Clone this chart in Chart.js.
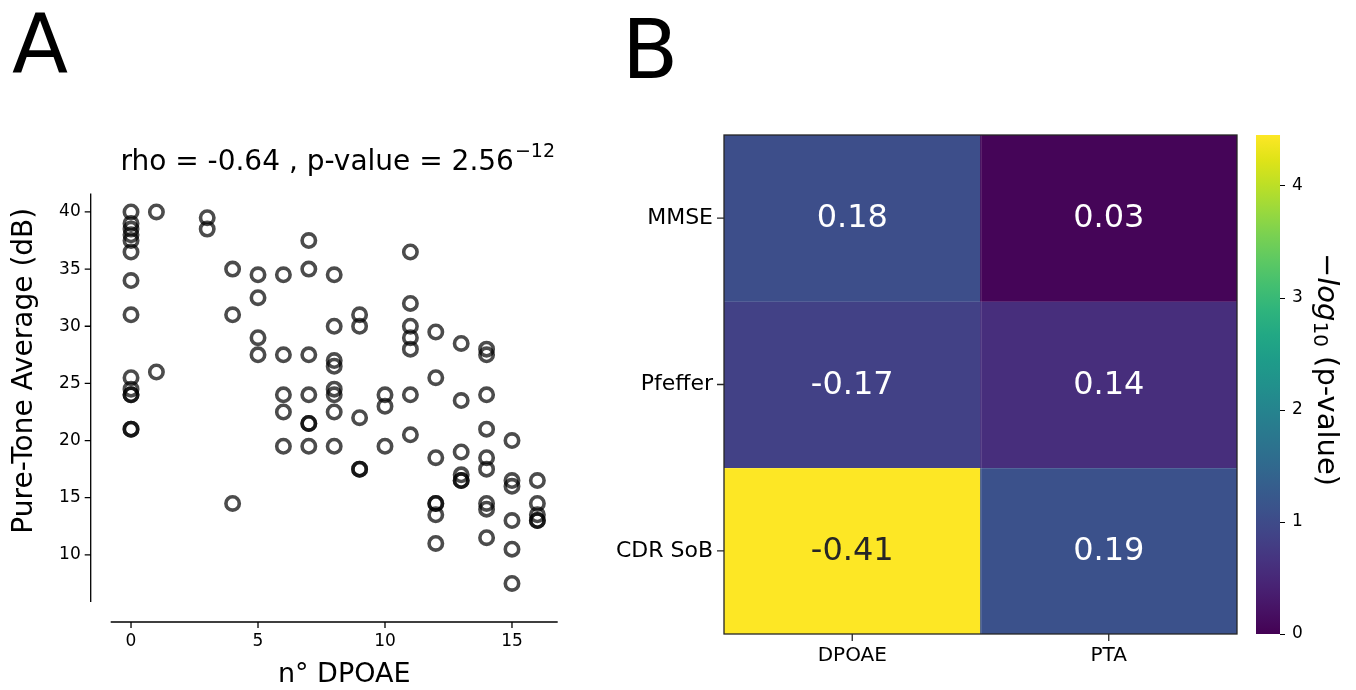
<!DOCTYPE html>
<html>
<head>
<meta charset="utf-8">
<script src="https://cdn.jsdelivr.net/npm/chart.js@4.4.1/dist/chart.umd.min.js"></script>
<style>
  html, body { margin: 0; padding: 0; background: #ffffff; }
  #wrap { position: relative; width: 1356px; height: 690px; overflow: hidden; background: #fff; }
  canvas { position: absolute; top: 0; }
</style>
</head>
<body>
<div id="wrap">
  <canvas id="chartA" width="600" height="690" style="left:0px;width:600px;height:690px"></canvas>
  <canvas id="chartB" width="650" height="690" style="left:600px;width:650px;height:690px"></canvas>
  <canvas id="chartC" width="110" height="690" style="left:1246px;width:110px;height:690px"></canvas>
</div>
<script>
// ---------------- Panel A data ----------------
const dpoae = [
  0,0,0,0,0,0,0,0,0,0,0,0,0,0,
  1,1,
  3,3,
  4,4,4,
  5,5,5,5,
  6,6,6,6,6,
  7,7,7,7,7,7,7,
  8,8,8,8,8,8,8,8,
  9,9,9,9,9,
  10,10,10,
  11,11,11,11,11,11,11,
  12,12,12,12,12,12,12,
  13,13,13,13,13,13,
  14,14,14,14,14,14,14,14,14,
  15,15,15,15,15,15,
  16,16,16,16,16
];
const pta = [
  40,39,38.5,38,37.5,36.5,34,31,25.5,24.5,24,24,21,21,
  40,26,
  39.5,38.5,
  35,31,14.5,
  34.5,32.5,29,27.5,
  34.5,27.5,24,22.5,19.5,
  37.5,35,27.5,24,21.5,21.5,19.5,
  34.5,30,27,26.5,24.5,24,22.5,19.5,
  31,30,22,17.5,17.5,
  24,23,19.5,
  36.5,32,30,29,28,24,20.5,
  29.5,25.5,18.5,14.5,14.5,13.5,11,
  28.5,23.5,19,17,16.5,16.5,
  28,27.5,24,21,18.5,17.5,14.5,14,11.5,
  20,16.5,16,13,10.5,7.5,
  16.5,14.5,13.5,13,13
];
const xTicksA = [0, 5, 10, 15];
const yTicksA = [10, 15, 20, 25, 30, 35, 40];
const titleMainA = 'rho = -0.64 , p-value = 2.56';
const titleSupA = '\u221212';
const xTitleA = 'n\u00b0 DPOAE';
const yTitleA = 'Pure-Tone Average (dB)';

// ---------------- Panel B data ----------------
const rowLabels = ['MMSE', 'Pfeffer', 'CDR SoB'];
const colLabels = ['DPOAE', 'PTA'];
const rhoMMSE = [0.18, 0.03];
const rhoPfeffer = [-0.17, 0.14];
const rhoCDR = [-0.41, 0.19];
const logpMMSE = [1.05, 0.05];
const logpPfeffer = [0.85, 0.58];
const logpCDR = [4.45, 1.10];
const cbTicks = [0, 1, 2, 3, 4];
const cbLabelParts = ['\u2212', 'log', '10', ' (p-value)'];

const rhoRows = [rhoMMSE, rhoPfeffer, rhoCDR];
const logpRows = [logpMMSE, logpPfeffer, logpCDR];
const cbMin = 0;
const cbMax = Math.max(...logpRows.flat());

// viridis colormap stops
const viridis = ['#440154','#471365','#482475','#463480','#414487','#3b528b','#355f8d','#2f6c8e',
  '#2a788e','#25848e','#21918c','#1e9c89','#22a884','#2fb47c','#44bf70','#5ec962','#7ad151',
  '#9bd93c','#bddf26','#dfe318','#fde725'];
function hexToRgb(h){ return [parseInt(h.slice(1,3),16), parseInt(h.slice(3,5),16), parseInt(h.slice(5,7),16)]; }
function viridisAt(t){
  t = Math.max(0, Math.min(1, t));
  const f = t * (viridis.length - 1);
  const i = Math.min(viridis.length - 2, Math.floor(f));
  const r = f - i;
  const a = hexToRgb(viridis[i]), b = hexToRgb(viridis[i+1]);
  const c = a.map((v,k) => Math.round(v + (b[k]-v)*r));
  return 'rgb(' + c.join(',') + ')';
}

const FAM = "'DejaVu Sans', 'Liberation Sans', sans-serif";
Chart.defaults.font.family = FAM;
Chart.defaults.color = '#000';

// ---------------- Panel A ----------------
const SPINE_OFF = 20;
const panelAPlugin = {
  id: 'panelA',
  afterDraw(chart) {
    const { ctx, chartArea: ca, scales: { x, y } } = chart;
    ctx.save();
    ctx.strokeStyle = '#000';
    ctx.lineWidth = 1.3;
    ctx.beginPath();
    const sx = ca.left - SPINE_OFF;
    ctx.moveTo(sx, ca.top); ctx.lineTo(sx, ca.bottom);
    y.ticks.forEach(t => { const py = y.getPixelForValue(t.value); ctx.moveTo(sx - 6, py); ctx.lineTo(sx, py); });
    const sy = ca.bottom + SPINE_OFF;
    ctx.moveTo(ca.left, sy); ctx.lineTo(ca.right, sy);
    x.ticks.forEach(t => { const px = x.getPixelForValue(t.value); ctx.moveTo(px, sy); ctx.lineTo(px, sy + 6); });
    ctx.stroke();
    ctx.fillStyle = '#000';
    // title
    ctx.textBaseline = 'alphabetic';
    ctx.font = '28px ' + FAM;
    const wMain = ctx.measureText(titleMainA).width;
    ctx.font = '19px ' + FAM;
    const wSup = ctx.measureText(titleSupA).width;
    const cx = (ca.left + ca.right) / 2 + 3;
    const x0 = cx - (wMain + wSup) / 2;
    ctx.textAlign = 'left';
    ctx.font = '28px ' + FAM;
    ctx.fillText(titleMainA, x0, 170);
    ctx.font = '19px ' + FAM;
    ctx.fillText(titleSupA, x0 + wMain + 1, 157);
    // axis titles
    ctx.font = '27px ' + FAM;
    ctx.textAlign = 'center';
    ctx.textBaseline = 'middle';
    ctx.fillText(xTitleA, (ca.left + ca.right) / 2 + 10, 675);
    ctx.save();
    ctx.translate(25, (ca.top + ca.bottom) / 2 - 27);
    ctx.rotate(-Math.PI / 2);
    ctx.font = '28px ' + FAM;
    ctx.fillText(yTitleA, 0, 0);
    ctx.restore();
    // panel letter
    ctx.textAlign = 'left';
    ctx.textBaseline = 'alphabetic';
    ctx.font = '82px ' + FAM;
    ctx.fillText('A', 12, 72);
    ctx.restore();
  }
};

new Chart(document.getElementById('chartA'), {
  type: 'scatter',
  data: {
    datasets: [{
      data: dpoae.map((v, i) => ({ x: v, y: pta[i] })),
      pointRadius: 6.7,
      pointHoverRadius: 6.7,
      pointBorderWidth: 3.6,
      pointHoverBorderWidth: 3.6,
      pointBackgroundColor: 'rgba(0,0,0,0)',
      pointBorderColor: 'rgba(0,0,0,0.7)',
      showLine: false
    }]
  },
  options: {
    responsive: false,
    animation: false,
    events: [],
    layout: { padding: { top: 193.4, right: 42.3, left: 0, bottom: 0 } },
    plugins: { legend: { display: false }, tooltip: { enabled: false } },
    scales: {
      x: {
        type: 'linear', min: -0.8, max: 16.8,
        afterBuildTicks: s => { s.ticks = xTicksA.map(v => ({ value: v })); },
        afterFit: s => { s.height = 88; },
        grid: { display: false, drawTicks: false },
        border: { display: false },
        ticks: { padding: 29, font: { size: 17 }, color: '#000' }
      },
      y: {
        type: 'linear', min: 5.875, max: 41.625,
        afterBuildTicks: s => { s.ticks = yTicksA.map(v => ({ value: v })); },
        afterFit: s => { s.width = 110.7; },
        grid: { display: false, drawTicks: false },
        border: { display: false },
        ticks: { padding: 30, font: { size: 17 }, color: '#000' }
      }
    }
  },
  plugins: [panelAPlugin]
});

// ---------------- Panel B (heatmap) ----------------
const heatPlugin = {
  id: 'heat',
  afterDatasetsDraw(chart) {
    const { ctx, chartArea: ca, scales: { x, y } } = chart;
    ctx.save();
    // annotations
    ctx.font = '32px ' + FAM;
    ctx.textAlign = 'center';
    ctx.textBaseline = 'middle';
    chart.data.datasets.forEach((ds, di) => {
      const meta = chart.getDatasetMeta(di);
      meta.data.forEach((el, ci) => {
        const t = logpRows[di][ci] / cbMax;
        ctx.fillStyle = t > 0.6 ? '#262626' : '#ffffff';
        ctx.fillText(rhoRows[di][ci].toFixed(2), el.x, (el.y + el.base) / 2 + 1);
      });
    });
    // faint cell separators
    ctx.strokeStyle = 'rgba(255,255,255,0.12)';
    ctx.lineWidth = 1;
    ctx.beginPath();
    for (let i = 1; i < rowLabels.length; i++) { const py = Math.round(y.getPixelForValue(i)) + 0.5; ctx.moveTo(ca.left, py); ctx.lineTo(ca.right, py); }
    const midX = Math.round((x.getPixelForTick(0) + x.getPixelForTick(1)) / 2) + 0.5;
    ctx.moveTo(midX, ca.top); ctx.lineTo(midX, ca.bottom);
    ctx.stroke();
    // border
    ctx.strokeStyle = '#262626';
    ctx.lineWidth = 1.3;
    ctx.strokeRect(ca.left, ca.top, ca.right - ca.left, ca.bottom - ca.top);
    // tick marks
    ctx.beginPath();
    y.ticks.forEach(t => { const py = y.getPixelForValue(t.value); ctx.moveTo(ca.left - 7, py); ctx.lineTo(ca.left, py); });
    x.ticks.forEach((t, i) => { const px = x.getPixelForTick(i); ctx.moveTo(px, ca.bottom); ctx.lineTo(px, ca.bottom + 7); });
    ctx.stroke();
    // panel letter
    ctx.fillStyle = '#000';
    ctx.textAlign = 'left';
    ctx.textBaseline = 'alphabetic';
    ctx.font = '82px ' + FAM;
    ctx.fillText('B', 22, 78);
    ctx.restore();
  }
};

new Chart(document.getElementById('chartB'), {
  type: 'bar',
  data: {
    labels: colLabels,
    datasets: rowLabels.map((r, ri) => ({
      label: r,
      data: colLabels.map(() => [ri, ri + 1]),
      backgroundColor: logpRows[ri].map(v => viridisAt((v - cbMin) / (cbMax - cbMin))),
      borderWidth: 0,
      barPercentage: 1,
      categoryPercentage: 1,
      grouped: false
    }))
  },
  options: {
    responsive: false,
    animation: false,
    events: [],
    layout: { padding: { top: 135, right: 13, left: 0, bottom: 0 } },
    plugins: { legend: { display: false }, tooltip: { enabled: false } },
    scales: {
      x: {
        afterFit: s => { s.height = 56; },
        grid: { display: false, drawTicks: false },
        border: { display: false },
        ticks: { padding: 10, font: { size: 20 }, color: '#000' }
      },
      y: {
        type: 'linear', min: 0, max: rowLabels.length, reverse: true,
        afterBuildTicks: s => { s.ticks = rowLabels.map((r, i) => ({ value: i + 0.5 })); },
        afterFit: s => { s.width = 124; },
        grid: { display: false, drawTicks: false },
        border: { display: false },
        ticks: { padding: 11, font: { size: 22 }, color: '#000', callback: v => rowLabels[Math.floor(v)] }
      }
    }
  },
  plugins: [heatPlugin]
});

// ---------------- Colorbar ----------------
const cbPlugin = {
  id: 'cbar',
  afterDraw(chart) {
    const { ctx, chartArea: ca, scales: { y } } = chart;
    ctx.save();
    ctx.strokeStyle = '#000';
    ctx.lineWidth = 1;
    ctx.beginPath();
    y.ticks.forEach(t => { const py = Math.round(y.getPixelForValue(t.value)) + 0.5; ctx.moveTo(ca.right, py); ctx.lineTo(ca.right + 5, py); });
    ctx.stroke();
    // rotated label
    const fonts = ['29px ' + FAM, 'italic 29px ' + FAM, '20px ' + FAM, '29px ' + FAM];
    const offs = [0, 0, 7, 0];
    let total = 0;
    const widths = cbLabelParts.map((p, i) => { ctx.font = fonts[i]; const w = ctx.measureText(p).width; total += w; return w; });
    ctx.translate(80, (ca.top + ca.bottom) / 2 - 15);
    ctx.rotate(Math.PI / 2);
    ctx.fillStyle = '#000';
    ctx.textBaseline = 'middle';
    ctx.textAlign = 'left';
    let xx = -total / 2;
    cbLabelParts.forEach((p, i) => { ctx.font = fonts[i]; ctx.fillText(p, xx, offs[i]); xx += widths[i]; });
    ctx.restore();
  }
};

new Chart(document.getElementById('chartC'), {
  type: 'bar',
  data: {
    labels: [''],
    datasets: [{
      data: [[cbMin, cbMax]],
      barPercentage: 1,
      categoryPercentage: 1,
      borderWidth: 0,
      backgroundColor: (c) => {
        const ca = c.chart.chartArea;
        if (!ca) return viridis[0];
        const g = c.chart.ctx.createLinearGradient(0, ca.bottom, 0, ca.top);
        viridis.forEach((col, i) => g.addColorStop(i / (viridis.length - 1), col));
        return g;
      }
    }]
  },
  options: {
    responsive: false,
    animation: false,
    events: [],
    layout: { padding: { top: 135, left: 10, bottom: 56, right: 0 } },
    plugins: { legend: { display: false }, tooltip: { enabled: false } },
    scales: {
      x: { display: false },
      y: {
        position: 'right', min: cbMin, max: cbMax,
        afterBuildTicks: s => { s.ticks = cbTicks.map(v => ({ value: v })); },
        afterFit: s => { s.width = 76; },
        grid: { display: false, drawTicks: false },
        border: { display: false },
        ticks: { padding: 12, font: { size: 17 }, color: '#000' }
      }
    }
  },
  plugins: [cbPlugin]
});
</script>
</body>
</html>
